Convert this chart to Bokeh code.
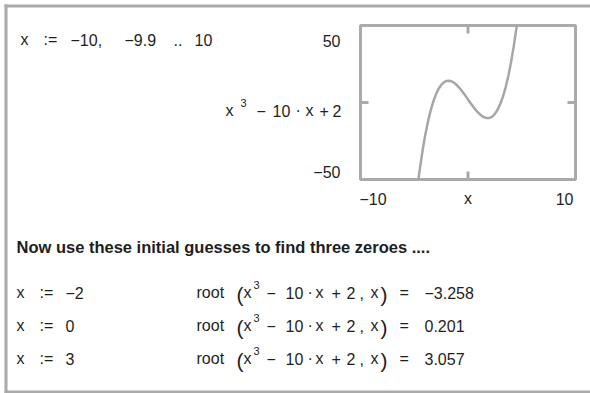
from bokeh.plotting import figure
from bokeh.models import Range1d
from bokeh.core.properties import value
from bokeh.embed import file_html
from bokeh.resources import INLINE

# ---------------- data ----------------
range_parts = ["x", ":=", "\u221210,", "\u22129.9", "..", "10"]
# visible part of x^3 - 10x + 2 inside the -50..50 window
curve_x = [-4.6125, -4.5, -4.25, -4.0, -3.75, -3.5, -3.25, -3.0, -2.75,
           -2.5, -2.25, -2.0, -1.75, -1.5, -1.25, -1.0, -0.75, -0.5, -0.25,
           0.0, 0.25, 0.5, 0.75, 1.0, 1.25, 1.5, 1.75, 2.0, 2.25,
           2.5, 2.75, 3.0, 3.25, 3.5, 3.75, 4.0, 4.25, 4.5, 4.5365]
curve_y = [-50.0, -44.125, -32.266, -22.0, -13.234, -5.875, 0.172, 5.0, 8.703,
           11.375, 13.109, 14.0, 14.141, 13.625, 12.547, 11.0, 9.078, 6.875, 4.484,
           2.0, -0.484, -2.875, -5.078, -7.0, -8.547, -9.625, -10.141, -10.0, -9.109,
           -7.375, -4.703, -1.0, 3.828, 9.875, 17.234, 26.0, 36.266, 48.125, 50.0]
x_lim = [-10, 10]
y_lim = [-50, 50]
x_ticks = [-10, 0, 10]
y_ticks = [-50, 0, 50]
x_tick_labels = ["\u221210", "x", "10"]
y_tick_labels = ["50", "\u221250"]
heading = "Now use these initial guesses to find three zeroes ...."
guesses = ["\u22122", "0", "3"]
roots = ["\u22123.258", "0.201", "3.057"]

# ---------------- layout (picture pixels) ----------------
PX0, PY0 = 0, 0
W, H = 590, 393
FL, FR, FT, FB = 360, 575, 25, 179   # plot box
GRAY = "#aaaaaa"
INK = "#1e1e1e"
FONT = "Liberation Sans"
TICK = 8

p = figure(width=W, height=H,
           x_range=Range1d(PX0, PX0 + W), y_range=Range1d(PY0 + H, PY0),
           output_backend="svg", toolbar_location=None,
           min_border=0, x_axis_location=None, y_axis_location=None)
p.grid.visible = False
p.outline_line_color = None
p.background_fill_color = "white"
p.border_fill_color = "white"

# data ranges of the small plot, mapped onto the plot box
sx = (x_lim[1] - x_lim[0]) / (FR - FL)
sy = (y_lim[1] - y_lim[0]) / (FB - FT)
p.extra_x_ranges = {"fx": Range1d(x_lim[0] - (FL - PX0) * sx, x_lim[1] + (PX0 + W - FR) * sx)}
p.extra_y_ranges = {"fy": Range1d(y_lim[0] - (PY0 + H - FB) * sy, y_lim[1] + (FT - PY0) * sy)}

# worksheet frame (left, top, bottom)
p.line([5.5, 5.5], [4, H], line_color=GRAY, line_width=3)
p.line([4, W], [5.5, 5.5], line_color=GRAY, line_width=3)
p.line([4, W], [H - 1.5, H - 1.5], line_color=GRAY, line_width=3)

# plot box and ticks
p.quad(left=[x_lim[0]], right=[x_lim[1]], bottom=[y_lim[0]], top=[y_lim[1]],
       fill_color=None, line_color=GRAY, line_width=3,
       x_range_name="fx", y_range_name="fy")
tx = TICK * sx
ty = TICK * sy
p.segment(x0=x_ticks, x1=x_ticks, y0=[y_lim[0]] * 3, y1=[y_lim[0] + ty] * 3,
          line_color=GRAY, line_width=3, x_range_name="fx", y_range_name="fy")
p.segment(x0=x_ticks, x1=x_ticks, y0=[y_lim[1]] * 3, y1=[y_lim[1] - ty] * 3,
          line_color=GRAY, line_width=3, x_range_name="fx", y_range_name="fy")
p.segment(x0=[x_lim[0]] * 3, x1=[x_lim[0] + tx] * 3, y0=y_ticks, y1=y_ticks,
          line_color=GRAY, line_width=3, x_range_name="fx", y_range_name="fy")
p.segment(x0=[x_lim[1]] * 3, x1=[x_lim[1] - tx] * 3, y0=y_ticks, y1=y_ticks,
          line_color=GRAY, line_width=3, x_range_name="fx", y_range_name="fy")

# curve
p.line(curve_x, curve_y, line_color="#a6a6a6", line_width=2.5,
       x_range_name="fx", y_range_name="fy")


def lab(text, px, py, size=16, bold=False, align="left"):
    p.text(x=[px], y=[py], text=[text], text_font=value(FONT),
           text_font_size=value(f"{size}px"), text_color=INK,
           text_font_style="bold" if bold else "normal",
           text_align=align, text_baseline="alphabetic")


# top line: range definition
for t, px in zip(range_parts, [20, 43, 70, 124, 173, 194]):
    lab(t, px, 39)

# y tick labels and function label
lab(y_tick_labels[0], 340, 40, align="right")
lab(y_tick_labels[1], 340, 171, align="right")
for t, px in [("x", 225), ("\u2212", 256), ("10", 272), ("\u00b7", 295), ("x", 305),
              ("+", 319), ("2", 332)]:
    lab(t, px, 110)
lab("3", 240, 102, size=11)

# x tick labels
lab(x_tick_labels[0], 359, 198, align="left")
lab(x_tick_labels[1], 467.5, 198, align="center")
lab(x_tick_labels[2], 573, 198, align="right")

# heading
lab(heading, 16, 246, size=16.5, bold=True)

# rows
row_base = [292, 325, 358]
for g, r, by in zip(guesses, roots, row_base):
    lab("x", 16, by)
    lab(":=", 39, by)
    lab(g, 65, by)
    lab("root", 196, by)
    lab("(", 236, by + 2, size=21)
    for t, px in [("x", 243), ("\u2212", 266), ("10", 285), ("\u00b7", 307), ("x", 315),
                  ("+", 331), ("2", 346), (",", 359), ("x", 370)]:
        lab(t, px, by)
    lab(")", 380, by + 2, size=21)
    lab("3", 253, by - 8, size=11)
    lab("=", 399, by)
    lab(r, 424, by)

open("out.html", "w").write(file_html(p, INLINE))
